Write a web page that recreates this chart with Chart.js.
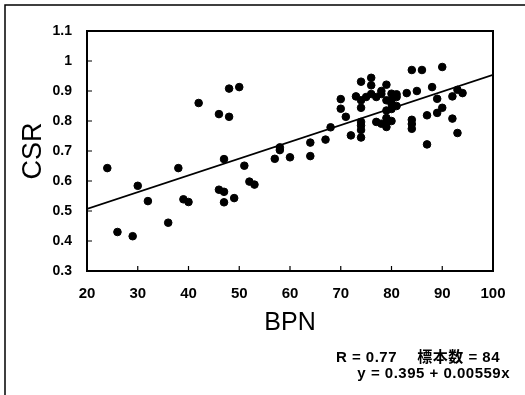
<!DOCTYPE html>
<html>
<head>
<meta charset="utf-8">
<script src="https://cdn.jsdelivr.net/npm/chart.js@4/dist/chart.umd.min.js"></script>
<style>
    html, body { margin: 0; padding: 0; background: #fff; }
    #wrap { width: 525px; height: 395px; position: relative; }
</style>
</head>
<body>
<div id="wrap"><canvas id="chart" width="525" height="395"></canvas></div>
<script>
// BPN (x) and CSR (y)
const bpn = [
    24, 26, 29, 30, 32, 36, 38, 39, 40, 42,
    46, 48, 48, 50, 47, 46, 47, 47, 49, 51,
    52, 53, 57, 58, 58, 60, 64, 64, 67, 68,
    70, 70, 71, 72, 74, 73, 74, 74, 75, 74,
    74, 74, 76, 76, 77, 79, 78, 77, 78, 79,
    80, 81, 79, 80, 80, 79, 83, 85, 84, 86,
    90, 88, 89, 92, 93, 94, 90, 89, 87, 84,
    84, 92, 93, 87, 84, 78, 80, 81, 79, 80,
    74, 76, 79, 81
];
const csr = [
    0.643, 0.430, 0.416, 0.584, 0.533, 0.461, 0.643, 0.539, 0.530, 0.860,
    0.823, 0.908, 0.814, 0.913, 0.673, 0.571, 0.564, 0.529, 0.543, 0.651,
    0.598, 0.588, 0.674, 0.703, 0.712, 0.679, 0.728, 0.683, 0.738, 0.779,
    0.873, 0.841, 0.814, 0.752, 0.931, 0.882, 0.869, 0.844, 0.880, 0.797,
    0.770, 0.745, 0.944, 0.919, 0.880, 0.921, 0.900, 0.797, 0.791, 0.780,
    0.891, 0.889, 0.869, 0.858, 0.840, 0.835, 0.893, 0.900, 0.970, 0.970,
    0.980, 0.913, 0.874, 0.882, 0.904, 0.893, 0.844, 0.827, 0.819, 0.804,
    0.774, 0.808, 0.760, 0.722, 0.790, 0.890, 0.800, 0.850, 0.810, 0.870,
    0.785, 0.890, 0.795, 0.880
];

// regression line end points (y = 0.395 + 0.00559x)
const fitX = [20, 100];
const fitY = [0.507, 0.954];

const xTicks = [20, 30, 40, 50, 60, 70, 80, 90, 100];
const yTicks = [0.3, 0.4, 0.5, 0.6, 0.7, 0.8, 0.9, 1.0, 1.1];

const statLine1 = "R = 0.77\u3000 標本数 = 84";
const statLine2 = "y = 0.395 + 0.00559x";

const sans = "'Liberation Sans', Arial, 'Noto Sans CJK JP', sans-serif";

const frame = {
    id: "frame",
    afterDraw(chart) {
        const { ctx, chartArea: a, scales: { x, y } } = chart;
        ctx.save();
        ctx.strokeStyle = "#000";

        // outer picture border (left and top only)
        ctx.lineWidth = 1.5;
        ctx.beginPath();
        ctx.moveTo(5, 395);
        ctx.lineTo(5, 5);
        ctx.lineTo(525, 5);
        ctx.stroke();

        // plot box
        ctx.lineWidth = 2;
        ctx.strokeRect(a.left, a.top, a.right - a.left, a.bottom - a.top);

        // inward tick marks
        ctx.lineWidth = 1.2;
        ctx.beginPath();
        xTicks.forEach(v => {
            const px = x.getPixelForValue(v);
            ctx.moveTo(px, a.bottom);
            ctx.lineTo(px, a.bottom - 5);
        });
        yTicks.forEach(v => {
            const py = y.getPixelForValue(v);
            ctx.moveTo(a.left, py);
            ctx.lineTo(a.left + 5, py);
        });
        ctx.stroke();

        // stats text
        ctx.fillStyle = "#000";
        ctx.font = "bold 15px " + sans;
        ctx.letterSpacing = "0.5px";
        ctx.textAlign = "right";
        ctx.textBaseline = "middle";
        ctx.fillText(statLine1, 500, 358);
        ctx.fillText(statLine2, 510, 374);
        ctx.restore();
    }
};

new Chart(document.getElementById("chart"), {
    type: "scatter",
    data: {
        datasets: [
            {
                data: bpn.map((v, i) => ({ x: v, y: csr[i] })),
                backgroundColor: "#000",
                borderColor: "#000",
                pointRadius: 3.8,
                pointHoverRadius: 3.8
            },
            {
                type: "line",
                data: fitX.map((v, i) => ({ x: v, y: fitY[i] })),
                borderColor: "#000",
                borderWidth: 1.6,
                pointRadius: 0,
                fill: false
            }
        ]
    },
    options: {
        responsive: false,
        animation: false,
        events: [],
        layout: { padding: { left: 10, top: 31, right: 32, bottom: 57 } },
        plugins: { legend: { display: false }, tooltip: { enabled: false } },
        scales: {
            x: {
                type: "linear",
                min: 20,
                max: 100,
                afterBuildTicks: s => { s.ticks = xTicks.map(v => ({ value: v })); },
                afterFit: s => { s.height = 67; },
                grid: { display: false, drawTicks: false },
                border: { display: false },
                ticks: {
                    padding: 14,
                    color: "#000",
                    font: { family: sans, size: 15, weight: "bold" },
                    maxRotation: 0
                },
                title: {
                    display: true,
                    text: "BPN",
                    color: "#000",
                    font: { family: sans, size: 25 },
                    padding: { top: 8, bottom: 0 }
                }
            },
            y: {
                type: "linear",
                min: 0.3,
                max: 1.1,
                afterBuildTicks: s => { s.ticks = yTicks.map(v => ({ value: v })); },
                afterFit: s => { s.width = 77; },
                grid: { display: false, drawTicks: false },
                border: { display: false },
                ticks: {
                    padding: 15,
                    color: "#000",
                    font: { family: sans, size: 14, weight: "bold" },
                    callback: v => String(Number(v.toFixed(1)))
                },
                title: {
                    display: true,
                    text: "CSR",
                    color: "#000",
                    font: { family: sans, size: 27, lineHeight: 1.2 },
                    padding: { top: 7, bottom: 1 }
                }
            }
        }
    },
    plugins: [frame]
});
</script>
</body>
</html>
